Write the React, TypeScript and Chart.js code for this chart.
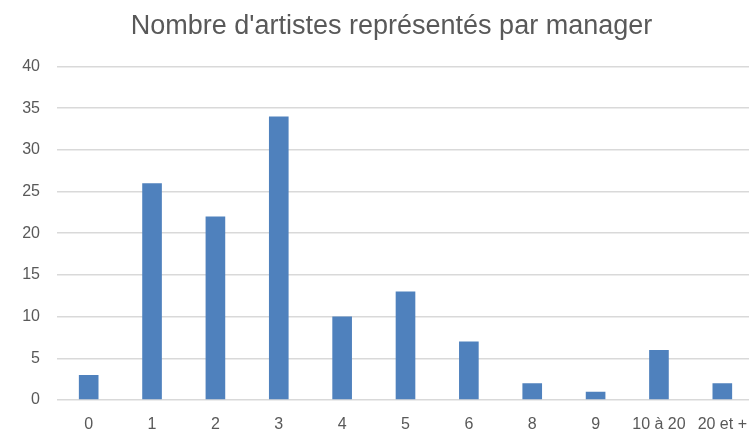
import React, { useEffect, useRef } from "react";
import { Chart, registerables } from "chart.js";

Chart.register(...registerables);

const TITLE = "Nombre d'artistes représentés par manager";
const categories = ["0", "1", "2", "3", "4", "5", "6", "8", "9", "10 à 20", "20 et +"];
const managers = [3, 26, 22, 34, 10, 13, 7, 2, 1, 6, 2];
const yTicks = { min: 0, max: 40, step: 5 };

const FONT = "'Liberation Sans', Arial, sans-serif";
const TEXT = "#595959";

export default function App() {
  const ref = useRef<HTMLCanvasElement | null>(null);
  useEffect(() => {
    if (!ref.current) return;
    const chart = new Chart(ref.current, {
      type: "bar",
      data: {
        labels: categories,
        datasets: [
          {
            data: managers,
            backgroundColor: "#4f81bd",
            borderWidth: 0,
            barPercentage: 0.31,
            categoryPercentage: 1,
          },
        ],
      },
      options: {
        animation: false,
        responsive: false,
        devicePixelRatio: 1,
        layout: { padding: 0 },
        plugins: {
          legend: { display: false },
          tooltip: { enabled: false },
          title: {
            display: true,
            text: TITLE,
            color: TEXT,
            font: { family: FONT, size: 27, weight: "normal", lineHeight: 1.2 },
            padding: { top: 10, bottom: 24 },
          },
        },
        scales: {
          x: {
            grid: { display: false, drawTicks: false },
            border: { display: false },
            ticks: { color: TEXT, font: { family: FONT, size: 16 }, padding: 15, maxRotation: 0, autoSkip: false },
            afterFit: (s: any) => {
              s.height = 31;
            },
          },
          y: {
            min: yTicks.min,
            max: yTicks.max,
            ticks: { stepSize: yTicks.step, color: TEXT, font: { family: FONT, size: 16 }, padding: 17 },
            grid: { color: "#d9d9d9", lineWidth: 1.5, drawTicks: false },
            border: { display: false },
            afterFit: (s: any) => {
              s.width = 57;
            },
          },
          yRight: {
            position: "right",
            display: true,
            ticks: { display: false },
            grid: { display: false, drawTicks: false },
            border: { display: false },
            afterFit: (s: any) => {
              s.width = 29;
            },
          },
        },
      },
    });
    return () => chart.destroy();
  }, []);
  return (
    <div style={{ position: "absolute", left: 0, top: 0, width: 749, height: 431, overflow: "hidden", background: "#fff" }}>
      <canvas ref={ref} width={783} height={431} style={{ width: 783, height: 431, display: "block" }} />
    </div>
  );
}
